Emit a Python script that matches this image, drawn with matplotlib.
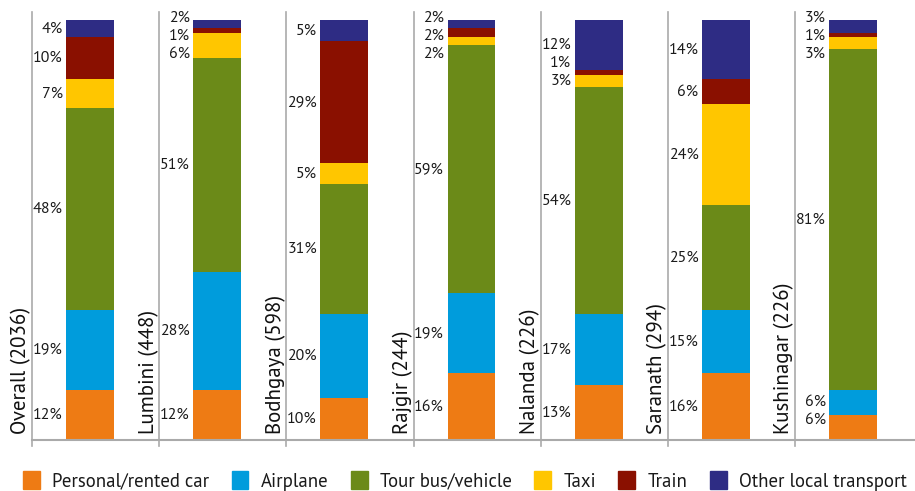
import matplotlib
matplotlib.use("Agg")
from matplotlib import pyplot as plt
from matplotlib.patches import Rectangle
import numpy as np

groups = ["Overall (2036)", "Lumbini (448)", "Bodhgaya (598)", "Rajgir (244)",
          "Nalanda (226)", "Saranath (294)", "Kushinagar (226)"]
modes = ["Personal/rented car", "Airplane", "Tour bus/vehicle", "Taxi", "Train",
         "Other local transport"]
car = [12, 12, 10, 16, 13, 16, 6]
airplane = [19, 28, 20, 19, 17, 15, 6]
tour_bus = [48, 51, 31, 59, 54, 25, 81]
taxi = [7, 6, 5, 2, 3, 24, 3]
train = [10, 1, 29, 2, 1, 6, 1]
other = [4, 2, 5, 2, 12, 14, 3]
colors = ["#EE7B14", "#009CDC", "#6B8A18", "#FFC600", "#8A1000", "#2E2C84"]

plt.rcParams['font.family'] = ['PT Sans', 'DejaVu Sans']

fig = plt.figure(figsize=(9.15, 4.91), dpi=100)
ax = fig.add_axes([0, 51 / 491, 1, 430 / 491])
ax.set_xlim(-90 / 127.17, (915 - 90) / 127.17)
ax.set_ylim(0, 100 * 430 / 420)
ax.axis('off')

series = [car, airplane, tour_bus, taxi, train, other]
x = np.arange(len(groups))
bottom = np.zeros(len(groups))
for vals, col, name in zip(series, colors, modes):
	ax.bar(x, vals, width=0.377, bottom=bottom, color=col, label=name)
	bottom += np.array(vals)


def label_positions(vals, gap=4.3, low=4.8, high=100.5):
	vals = np.array(vals, dtype=float)
	cum = np.cumsum(vals)
	pos = cum - vals / 2
	pos[0] = max(pos[0], low)
	for k in range(1, len(pos)):
		pos[k] = max(pos[k], pos[k - 1] + gap)
	pos[-1] = min(pos[-1], high)
	for k in range(len(pos) - 2, -1, -1):
		pos[k] = min(pos[k], pos[k + 1] - gap)
	return pos


for i, g in enumerate(groups):
	vals = [s[i] for s in series]
	for v, y in zip(vals, label_positions(vals)):
		ax.text(i - 0.215, y, "%d%%" % v, ha='right', va='center', fontsize=11.5,
			color='#1a1a1a')
	ax.text(i - 0.54, 1.5, g, rotation=90, ha='center', va='bottom', fontsize=15,
		color='#111111')
	ax.plot([i - 0.456, i - 0.456], [-1.5, 102], color='#aaaaaa', lw=1.2,
		clip_on=False)

ax.plot([-0.456, 6.6], [0, 0], color='#aaaaaa', lw=1.5, clip_on=False)

handles = [Rectangle((0, 0), 1, 1, color=c) for c in colors]
fig.legend(handles, modes, loc='center', bbox_to_anchor=(0.508, 10 / 491), ncol=6,
	frameon=False, fontsize=13.5, handlelength=0.9, handleheight=1.1,
	handletextpad=0.65, columnspacing=1.2, borderpad=0, labelcolor='#1a1a1a')

fig.savefig("out.png", dpi=100)
